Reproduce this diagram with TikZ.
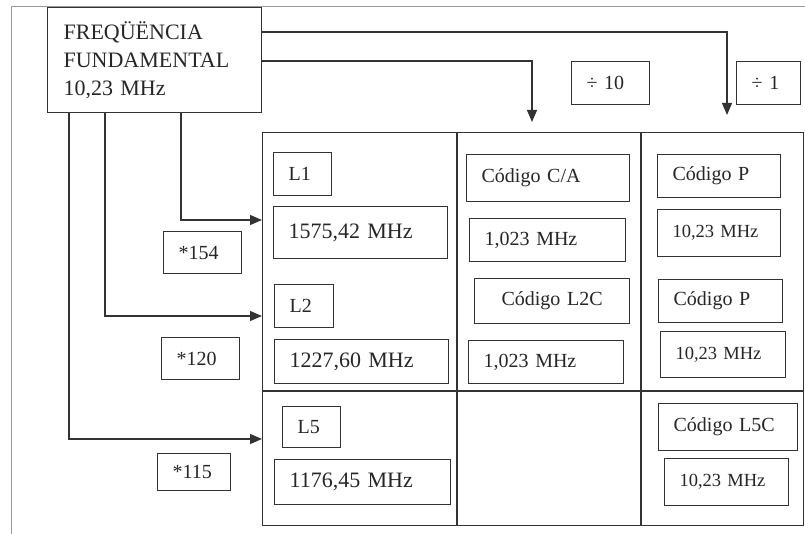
\documentclass[tikz,border=0pt]{standalone}
\usepackage{fontspec}
\setmainfont{Liberation Serif}
\usetikzlibrary{positioning,arrows.meta}

\newcommand{\sz}[2]{\fontsize{#1}{#2}\selectfont}

\tikzset{
	box/.style={draw, rectangle, anchor=north west, inner xsep=15pt, inner ysep=0pt, align=left},
	arr/.style={-{Triangle[length=12pt,width=10pt]}},
}

\begin{document}
\begin{tikzpicture}[x=1pt, y=-1pt, line width=1.2pt, draw=black!80, text=black!85]
	\useasboundingbox (0,0) rectangle (805,534);
	\draw[black!40, line width=1pt] (11,534) -- (11,7) -- (805,7);
	% frequencia fundamental
	\node[box, minimum width=214, minimum height=105, text width=182pt, inner xsep=16pt, font=\sz{22}{28}] (freq) at (47,7) {FREQÜËNCIA\\FUNDAMENTAL\\10,23~MHz};
	% quadro dos sinais
	\node[draw, anchor=north west, minimum width=541, minimum height=393, inner sep=0] (grid) at (262,132) {};
	\draw (457,132) -- (457,525);
	\draw (641,132) -- (641,525);
	\draw (262,391) -- (803,391);
	% caixas
	\foreach \x/\y/\w/\h/\n/\txt [evaluate=\w as \tw using \w-30] in {
		273/206/174/52/f1/{1575,42~MHz}, 274/339/174/44/f2/{1227,60~MHz}, 274/459/176/45/f5/{1176,45~MHz}} {
		\node[box, minimum width=\w, minimum height=\h, text width=\tw pt, font=\sz{22}{24}] (\n) at (\x,\y) {\txt};
	};
	\foreach \x/\y/\w/\h/\n/\txt [evaluate=\w as \tw using \w-30] in {
		273/152/58/43/l1/L1, 274/284/59/43/l2/L2, 282/406/58/41/l5/L5,
		163/231/78/42/m1/*154, 161/337/78/42/m2/*120, 157/453/73/37/m5/*115,
		466/154/163/47/ca/{Código C/A}, 469/218/156/43/caf/{1,023~MHz}, 468/340/155/43/lcf/{1,023~MHz},
		657/154/123/43/p1/{Código P}, 658/279/124/43/p2/{Código P}, 658/403/139/47/l5c/{Código L5C},
		571/61/78/43/d10/{÷ 10}, 736/61/64/43/d1/{÷ 1}} {
		\node[box, minimum width=\w, minimum height=\h, text width=\tw pt, font=\sz{20}{22}] (\n) at (\x,\y) {\txt};
	};
	\foreach \x/\y/\w/\h/\n [evaluate=\w as \tw using \w-30] in {
		657/209/123/47/p1f, 660/331/125/46/p2f, 664/458/124/47/l5cf} {
		\node[box, minimum width=\w, minimum height=\h, text width=\tw pt, font=\sz{18.5}{20}] (\n) at (\x,\y) {10,23~MHz};
	};
	\node[box, minimum width=155, minimum height=45, text width=125pt, align=center, font=\sz{20}{22}] (l2c) at (474,278) {Código L2C};
	% ligacoes
	\coordinate (caTop) at (532,122);
	\coordinate (pTop) at (727,115);
	\coordinate (in1) at (262,220);
	\coordinate (in2) at (262,316);
	\coordinate (in5) at (262,439);
	\draw[arr] ([yshift=-25pt]freq.north east) -| (pTop);
	\draw[arr] ([yshift=-54pt]freq.north east) -| (caTop);
	\draw[arr] ([xshift=134pt]freq.south west) |- (in1);
	\draw[arr] ([xshift=58pt]freq.south west) |- (in2);
	\draw[arr] ([xshift=22pt]freq.south west) |- (in5);
\end{tikzpicture}
\end{document}
